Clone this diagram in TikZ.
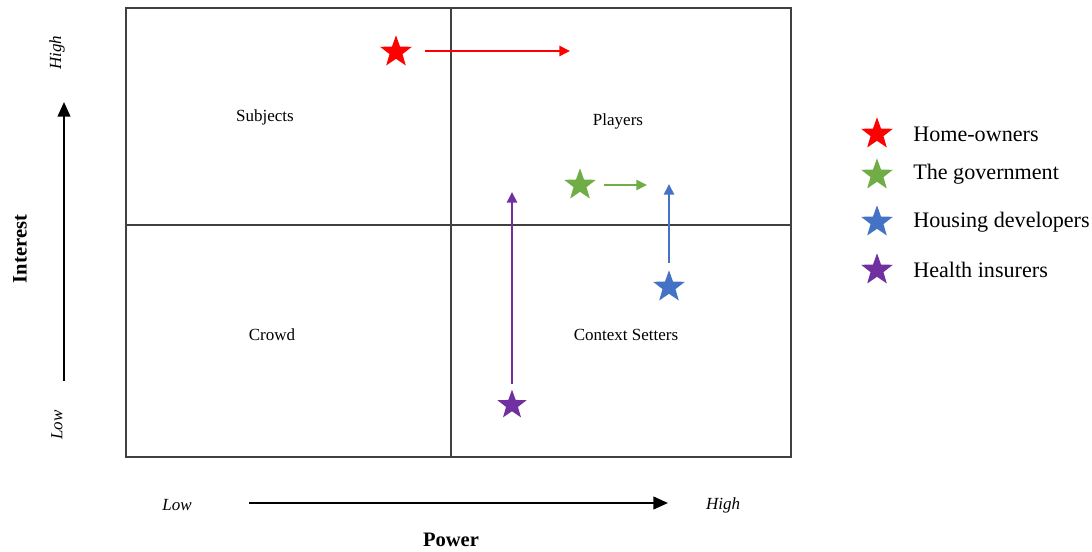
\documentclass[tikz,border=0pt]{standalone}
\usepackage{fontspec}
\setmainfont{Liberation Serif}
\usetikzlibrary{arrows.meta,shapes.geometric}
\definecolor{hoRed}{HTML}{FF0000}
\definecolor{govGreen}{HTML}{70AD47}
\definecolor{devBlue}{HTML}{4472C4}
\definecolor{insPurple}{HTML}{7030A0}
\definecolor{gridGray}{HTML}{404040}
\begin{document}
\begin{tikzpicture}[x=0.75pt,y=-0.75pt,
  quad/.style={font=\fontsize{12.75}{15}\selectfont},
  tick/.style={font=\fontsize{12.75}{15}\selectfont\itshape},
  axlabel/.style={font=\fontsize{15.4}{18}\selectfont\bfseries},
  legtext/.style={font=\fontsize{16.6}{19}\selectfont, anchor=west, inner sep=0pt},
  axarrow/.style={line width=1.6pt, -{Triangle[length=11pt,width=9.5pt]}},
  movearrow/.style={line width=1.9pt, -{Triangle[length=8pt,width=7.5pt]}},
  mark star/.style={star, star points=5, star point ratio=2.45, fill=#1, draw=none,
    minimum size=25pt, inner sep=0pt},
]
\useasboundingbox (0,0) rectangle (1092,552);

% quadrant grid
\draw[gridGray, line width=1.4pt] (126,8) rectangle (791,457);
\draw[gridGray, line width=1.4pt] (451,8) -- (451,457);
\draw[gridGray, line width=1.4pt] (126,225) -- (791,225);

% quadrant names
\node[quad] (subjects) at (265,117) {Subjects};
\node[quad] (players) at (618,121) {Players};
\node[quad] (crowd) at (272,335) {Crowd};
\node[quad] (context) at (626,335) {Context Setters};

% interest axis
\coordinate (intLow) at (64,381);
\coordinate (intHigh) at (64,102);
\draw[axarrow] (intLow) -- (intHigh);
\node[tick, rotate=90] (intHighLbl) at (57,53) {High};
\node[tick, rotate=90] (intLowLbl) at (57,425) {Low};
\node[axlabel, rotate=90] (interest) at (20,249) {Interest};

% power axis
\coordinate (powLow) at (249,503);
\coordinate (powHigh) at (668,503);
\draw[axarrow] (powLow) -- (powHigh);
\node[tick] (powLowLbl) at (177,505) {Low};
\node[tick] (powHighLbl) at (723,505) {High};
\node[axlabel] (power) at (451,540) {Power};

% stakeholders and their shifts
\node[mark star=hoRed] (homeowners) at (396,52) {};
\coordinate (hoEnd) at (570,51);
\draw[movearrow, hoRed] ([xshift=22pt]homeowners.center |- hoEnd) -- (hoEnd);

\node[mark star=govGreen] (government) at (580,185) {};
\coordinate (govEnd) at (647,185);
\draw[movearrow, govGreen] ([xshift=18pt]government.center) -- (govEnd);

\node[mark star=devBlue] (developers) at (669,287) {};
\coordinate (devEnd) at (669,184);
\draw[movearrow, devBlue] ([yshift=18pt]developers.center) -- (devEnd);

\node[mark star=insPurple, minimum size=23pt] (insurers) at (512,405) {};
\coordinate (insEnd) at (512,192);
\draw[movearrow, insPurple] ([yshift=16pt]insurers.center) -- (insEnd);

% legend
\node[mark star=hoRed] (lgHo) at (877,134) {};
\node[legtext] (lgHoTxt) at (913,134) {Home-owners};
\node[mark star=govGreen] (lgGov) at (877,175) {};
\node[legtext] (lgGovTxt) at (913,174) {The government};
\node[mark star=devBlue] (lgDev) at (877,222) {};
\node[legtext] (lgDevTxt) at (913,222) {Housing developers};
\node[mark star=insPurple] (lgIns) at (877,270) {};
\node[legtext] (lgInsTxt) at (913,270) {Health insurers};
\end{tikzpicture}
\end{document}
